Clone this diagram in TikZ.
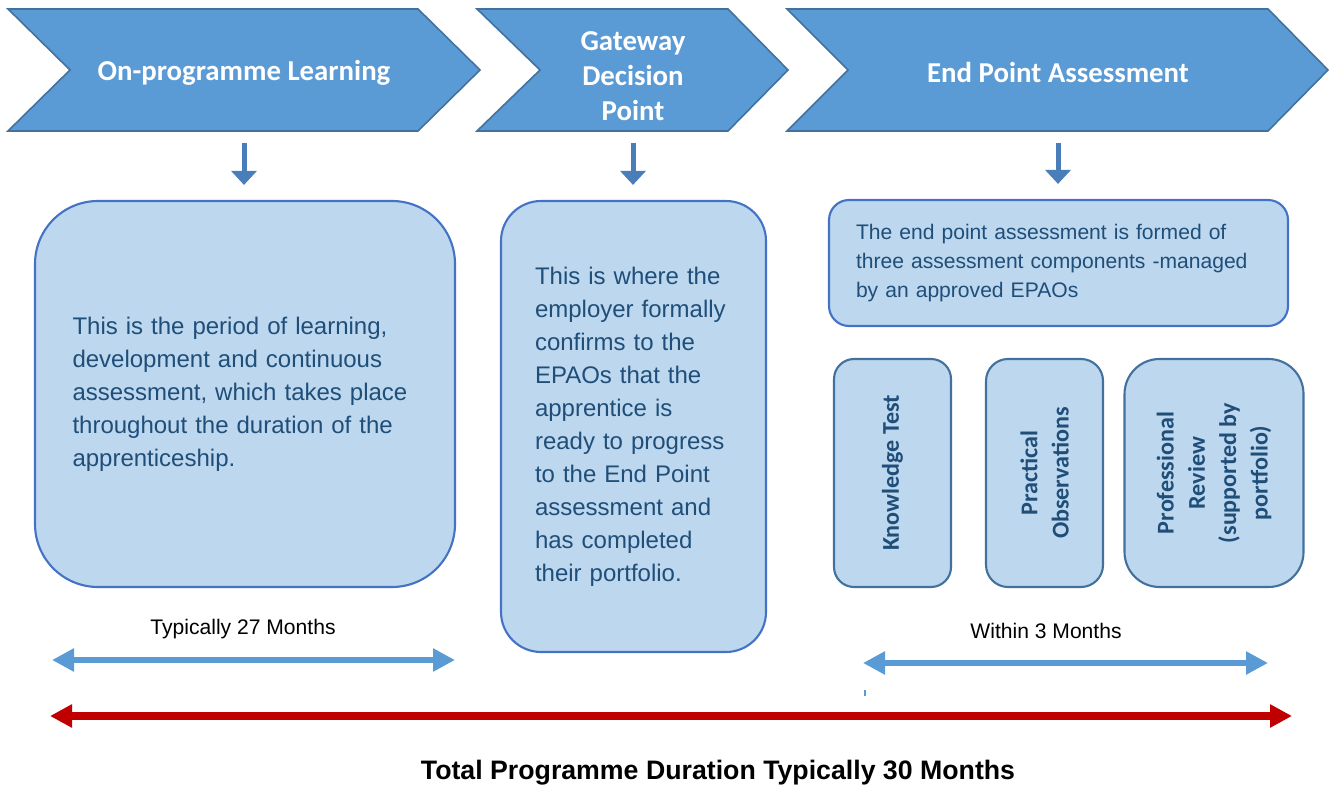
\documentclass[tikz,border=0pt]{standalone}
\usepackage{fontspec}
\setmainfont{Liberation Sans}
\newfontfamily\calibri{Carlito}
\usepackage{tikz}
\usetikzlibrary{arrows.meta}
\usetikzlibrary{positioning}
\definecolor{chevfill}{HTML}{5B9BD5}
\definecolor{chevline}{HTML}{41719C}
\definecolor{boxfill}{HTML}{BDD7EE}
\definecolor{boxline}{HTML}{4472C4}
\definecolor{boxtext}{HTML}{1F4E79}
\definecolor{downblue}{HTML}{4A7EBB}
\definecolor{spanblue}{HTML}{5B9BD5}
\definecolor{spanred}{HTML}{C00000}
\tikzset{chev/.style = {fill = chevfill, draw = chevline, line width = 0.45pt}}
\tikzset{chevtext/.style = {text = white, align = center, minimum height = 1.22cm,
                            font = \calibri\bfseries\fontsize{8.2}{9.96}\selectfont}}
\tikzset{phase/.style = {draw = boxline, fill = boxfill, line width = 0.6pt, text = boxtext, align = left}}
\tikzset{body/.style = {font = \fontsize{6.83}{9.39}\selectfont}}
\tikzset{comp/.style = {draw = chevline, fill = boxfill, line width = 0.6pt, rotate = 90, align = center,
                        text = boxtext, minimum width = 2.28cm, font = \calibri\bfseries\fontsize{6.85}{8.9}\selectfont}}
\tikzset{down/.style = {downblue, line width = 1.42pt, shorten <= 0.08cm, shorten >= 0.15cm,
                        -{Triangle[length = 1.4mm, width = 2.5mm]}}}
\tikzset{span/.style = {spanblue, line width = 1.7pt, {Triangle[length = 2.2mm, width = 2.2mm]}-{Triangle[length = 2.2mm, width = 2.2mm]}}}
\tikzset{note/.style = {font = \fontsize{6.0}{7.2}\selectfont}}

\begin{document}
\begin{tikzpicture}
      \useasboundingbox (0, 0) rectangle (13.29, -7.86);

      \draw [chev] (0.08, -0.09) -- (4.18, -0.09) -- (4.80, -0.70) -- (4.18, -1.31) -- (0.08, -1.31) -- (0.70, -0.70) -- cycle;
      \draw [chev] (4.77, -0.09) -- (7.28, -0.09) -- (7.88, -0.70) -- (7.28, -1.31) -- (4.77, -1.31) -- (5.40, -0.70) -- cycle;
      \draw [chev] (7.87, -0.09) -- (12.68, -0.09) -- (13.28, -0.70) -- (12.68, -1.31) -- (7.87, -1.31) -- (8.48, -0.70) -- cycle;
      \node [chevtext] (learnhead) at (2.44, -0.73) {On-programme Learning};
      \node [chevtext] (gatehead) at (6.33, -0.76) {Gateway\\Decision\\Point};
      \node [chevtext] (epahead) at (10.58, -0.73) {End Point Assessment};

      \node [phase, body, rounded corners = 0.63cm, minimum width = 4.20cm, minimum height = 3.86cm, text width = 3.45cm] (learn) at (2.45, -3.94)
            {This is the period of learning,\\development and continuous\\assessment, which takes place\\throughout the duration of the\\apprenticeship.};
      \node [phase, body, rounded corners = 0.40cm, minimum width = 2.65cm, minimum height = 4.51cm, text width = 1.97cm] (gate) at (6.335, -4.265)
            {This is where the\\employer formally\\confirms to the\\EPAOs that the\\apprentice is\\ready to progress\\to the End Point\\assessment and\\has completed\\their portfolio.};
      \node [phase, rounded corners = 0.20cm, minimum width = 4.59cm, minimum height = 1.26cm, text width = 4.05cm,
             font = \fontsize{6.0}{8.25}\selectfont] (epa) at (10.585, -2.63)
            {The end point assessment is formed of\\three assessment components -managed\\by an approved EPAOs};

      \node [comp, rounded corners = 0.20cm, minimum height = 1.17cm] (knowledge) at (8.925, -4.73) {Knowledge Test};
      \node [comp, rounded corners = 0.22cm, minimum height = 1.17cm] (practical) at (10.445, -4.73) {Practical\\Observations};
      \node [comp, rounded corners = 0.35cm, minimum height = 1.79cm] (review) at (12.14, -4.73) {Professional\\Review\\(supported by\\portfolio)};

      \draw [down] (learnhead.south) -- (learnhead.south |- learn.north);
      \draw [down, shorten <= 0.05cm] (gatehead.south) -- (gatehead.south |- gate.north);
      \draw [down] (epahead.south) -- (epahead.south |- epa.north);

      \coordinate (learnleft) at (0.52, -6.60);
      \coordinate (learnright) at (4.55, -6.60);
      \coordinate (epaleft) at (8.63, -6.63);
      \coordinate (eparight) at (12.68, -6.63);
      \coordinate (totalleft) at (0.50, -7.16);
      \coordinate (totalright) at (12.92, -7.16);
      \draw [span] (learnleft) -- (learnright);
      \draw [span] (epaleft) -- (eparight);
      \draw [spanblue, line width = 0.55pt] (8.65, -6.90) -- (8.65, -6.96);
      \draw [span, spanred, line width = 2pt] (totalleft) -- (totalright);
      \node [note] (learnlen) at (2.43, -6.29) {Typically 27 Months};
      \node [note] (epalen) at (10.46, -6.31) {Within 3 Months};
      \node [font = \bfseries\fontsize{7.6}{9}\selectfont] (total) at (7.18, -7.73) {Total Programme Duration Typically 30 Months};
    \end{tikzpicture}
\end{document}
